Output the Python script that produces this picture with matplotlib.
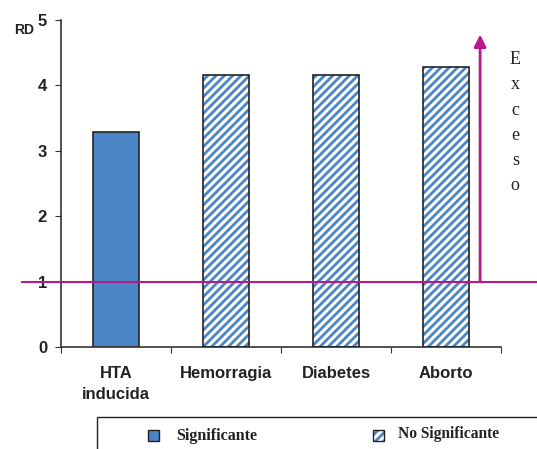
import numpy as np
import matplotlib.pyplot as plt
from matplotlib.patches import Rectangle

categorias = ['HTA\ninducida', 'Hemorragia', 'Diabetes', 'Aborto']
rd = [3.28, 4.16, 4.16, 4.28]
significante = [True, False, False, False]
umbral = 1.0

azul = '#4a86c6'
magenta = '#b5198b'
W, H = 537, 449

plt.rcParams['hatch.linewidth'] = 2.0

fig = plt.figure(figsize=(5.37, 4.49), dpi=100)
ax = fig.add_axes([61/W, 102/H, 440/W, 327/H])

x = np.arange(len(categorias))
for xi, v, s in zip(x, rd, significante):
    if s:
        ax.bar(xi, v, width=0.41, color=azul, edgecolor='#222222', linewidth=1.2, zorder=2)
    else:
        ax.bar(xi, v, width=0.41, color='white', edgecolor=azul, hatch='////', linewidth=0, zorder=2)
        ax.bar(xi, v, width=0.41, fill=False, edgecolor='#222222', linewidth=1.2, zorder=3)

ax.set_xlim(-0.5, 3.5)
ax.set_ylim(0, 5)
ax.set_yticks([0, 1, 2, 3, 4, 5])
ax.set_xticks(np.arange(-0.5, 4, 1))
ax.set_xticklabels([])
ax.set_xticks(x, minor=True)
ax.set_xticklabels(categorias, minor=True, fontsize=12, fontweight='bold',
                   family='Liberation Sans', color='#222222', linespacing=1.45)
ax.tick_params(axis='x', which='minor', length=0, pad=14)
ax.tick_params(axis='x', which='major', length=4, direction='out', color='#333333')
ax.tick_params(axis='y', length=4, direction='out', color='#333333', pad=6)
for lab in ax.get_yticklabels():
    lab.set_fontweight('bold')
    lab.set_fontsize(12)
    lab.set_family('Liberation Sans')
    lab.set_color('#222222')
ax.spines['top'].set_visible(False)
ax.spines['right'].set_visible(False)
ax.spines['left'].set_color('#333333')
ax.spines['bottom'].set_color('#333333')
ax.spines['left'].set_linewidth(1.2)
ax.spines['bottom'].set_linewidth(1.2)

# linea de referencia RD = 1
ax.plot([-0.855, 3.83], [umbral, umbral], color=magenta, lw=1.5, clip_on=False, zorder=4)

# flecha de exceso
ax.annotate('', xy=(3.31, 4.82), xytext=(3.31, 0.97),
            arrowprops=dict(arrowstyle='-|>', color=magenta, lw=2, mutation_scale=18),
            annotation_clip=False, zorder=5)
ax.text(3.63, 4.52, '\n'.join('Exceso'), ha='center', va='top', fontsize=13,
        family='Liberation Serif', color='#222222', linespacing=1.62, clip_on=False)

fig.text(24/W, 1 - 30/H, 'RD', fontsize=10, fontweight='bold',
         family='Liberation Sans', ha='center', va='center', color='#222222')

# leyenda (caja cortada en el borde inferior, como en el original)
fig.patches.append(Rectangle((97/W, -5/H), 450/W, 37/H, transform=fig.transFigure,
                             facecolor='white', edgecolor='#222222', lw=1.0))
fig.patches.append(Rectangle((148/W, 1 - 441/H), 11/W, 11/H, transform=fig.transFigure,
                             facecolor=azul, edgecolor='#222222', lw=1.0))
fig.patches.append(Rectangle((373/W, 1 - 441/H), 11/W, 11/H, transform=fig.transFigure,
                             facecolor='white', edgecolor=azul, lw=0, hatch='////'))
fig.patches.append(Rectangle((373/W, 1 - 441/H), 11/W, 11/H, transform=fig.transFigure,
                             fill=False, edgecolor='#222222', lw=1.0))
fig.text(176/W, 1 - 436/H, 'Significante', fontsize=11.5, fontweight='bold',
         family='Liberation Serif', va='center', color='#222222')
fig.text(398/W, 1 - 434/H, 'No Significante', fontsize=11.2, fontweight='bold',
         family='Liberation Serif', va='center', color='#222222')

plt.savefig('out.png', dpi=100)
